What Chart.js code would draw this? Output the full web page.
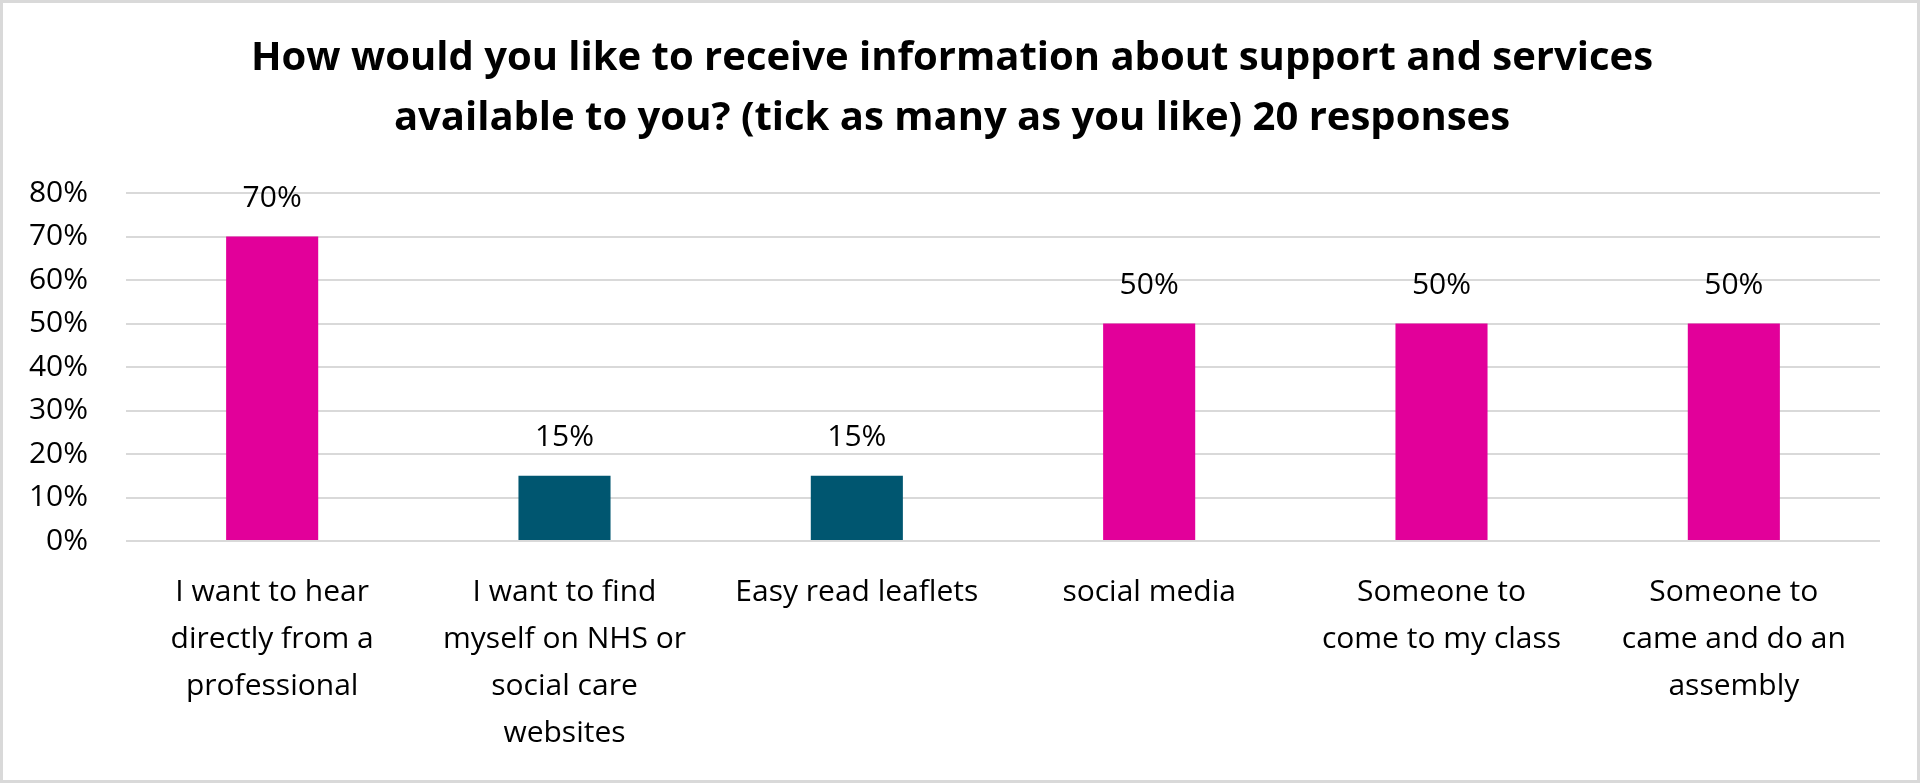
<!DOCTYPE html>
<html>
<head>
<meta charset="utf-8">
<script src="https://cdn.jsdelivr.net/npm/chart.js@4.4.1/dist/chart.umd.min.js"></script>
<style>
  html, body { margin: 0; padding: 0; background: #fff; }
  #wrap { position: relative; width: 1920px; height: 783px; }
  #frame { position: absolute; inset: 0; border: 3px solid #d9d9d9; box-sizing: border-box; pointer-events: none; }
</style>
</head>
<body>
<div id="wrap">
  <canvas id="chart" width="1920" height="783"></canvas>
  <div id="frame"></div>
</div>
<script>
/* ── data ─────────────────────────────────────────── */
const titleLines = [
    'How would you like to receive information about support and services',
    'available to you? (tick as many as you like) 20 responses'
];
const categories = [
    ['I want to hear', 'directly from a', 'professional'],
    ['I want to find', 'myself on NHS or', 'social care', 'websites'],
    ['Easy read leaflets'],
    ['social media'],
    ['Someone to', 'come to my class'],
    ['Someone to', 'came and do an', 'assembly']
];
const responses = [70, 15, 15, 50, 50, 50];
const yTicks = [0, 10, 20, 30, 40, 50, 60, 70, 80];

/* ── style ────────────────────────────────────────── */
const PINK = '#e2009a';
const TEAL = '#005670';
const barColors = [PINK, TEAL, TEAL, PINK, PINK, PINK];
const FONT = '"Open Sans", sans-serif';

/**
 * Draws the value above each bar, like Excel data labels.
 */
const valueLabels = {
    id: 'valueLabels',
    afterDatasetsDraw(chart) {
        const ctx = chart.ctx;
        const meta = chart.getDatasetMeta(0);
        ctx.save();
        ctx.font = '30px ' + FONT;
        ctx.fillStyle = '#000';
        ctx.textAlign = 'center';
        ctx.textBaseline = 'middle';
        meta.data.forEach((bar, i) => {
            ctx.fillText(responses[i] + '%', bar.x, bar.y - 38);
        });
        ctx.restore();
    }
};

new Chart(document.getElementById('chart'), {
    type: 'bar',
    data: {
        labels: categories,
        datasets: [{
            data: responses,
            backgroundColor: barColors,
            borderWidth: 0,
            categoryPercentage: 1,
            barPercentage: 0.315
        }]
    },
    options: {
        responsive: false,
        animation: false,
        layout: { padding: { left: 24, right: 40, top: 0, bottom: 0 } },
        plugins: {
            legend: { display: false },
            tooltip: { enabled: false },
            title: {
                display: true,
                text: titleLines,
                color: '#000',
                font: { family: FONT, size: 40, weight: '700', lineHeight: 1.5 },
                padding: { top: 29, bottom: 44 }
            }
        },
        scales: {
            x: {
                grid: { display: false },
                border: { display: false },
                afterFit: s => { s.height = 242; },
                ticks: {
                    color: '#000',
                    font: { family: FONT, size: 30, lineHeight: 1.57 },
                    maxRotation: 0,
                    autoSkip: false,
                    padding: 20
                }
            },
            y: {
                min: 0,
                max: 80,
                afterBuildTicks: s => { s.ticks = yTicks.map(v => ({ value: v })); },
                afterFit: s => { s.width = 102; },
                grid: { color: '#d9d9d9', lineWidth: 2, drawTicks: false },
                border: { display: false },
                ticks: {
                    color: '#000',
                    font: { family: FONT, size: 30 },
                    padding: 38,
                    callback: v => v + '%'
                }
            }
        }
    },
    plugins: [valueLabels]
});
</script>
</body>
</html>
